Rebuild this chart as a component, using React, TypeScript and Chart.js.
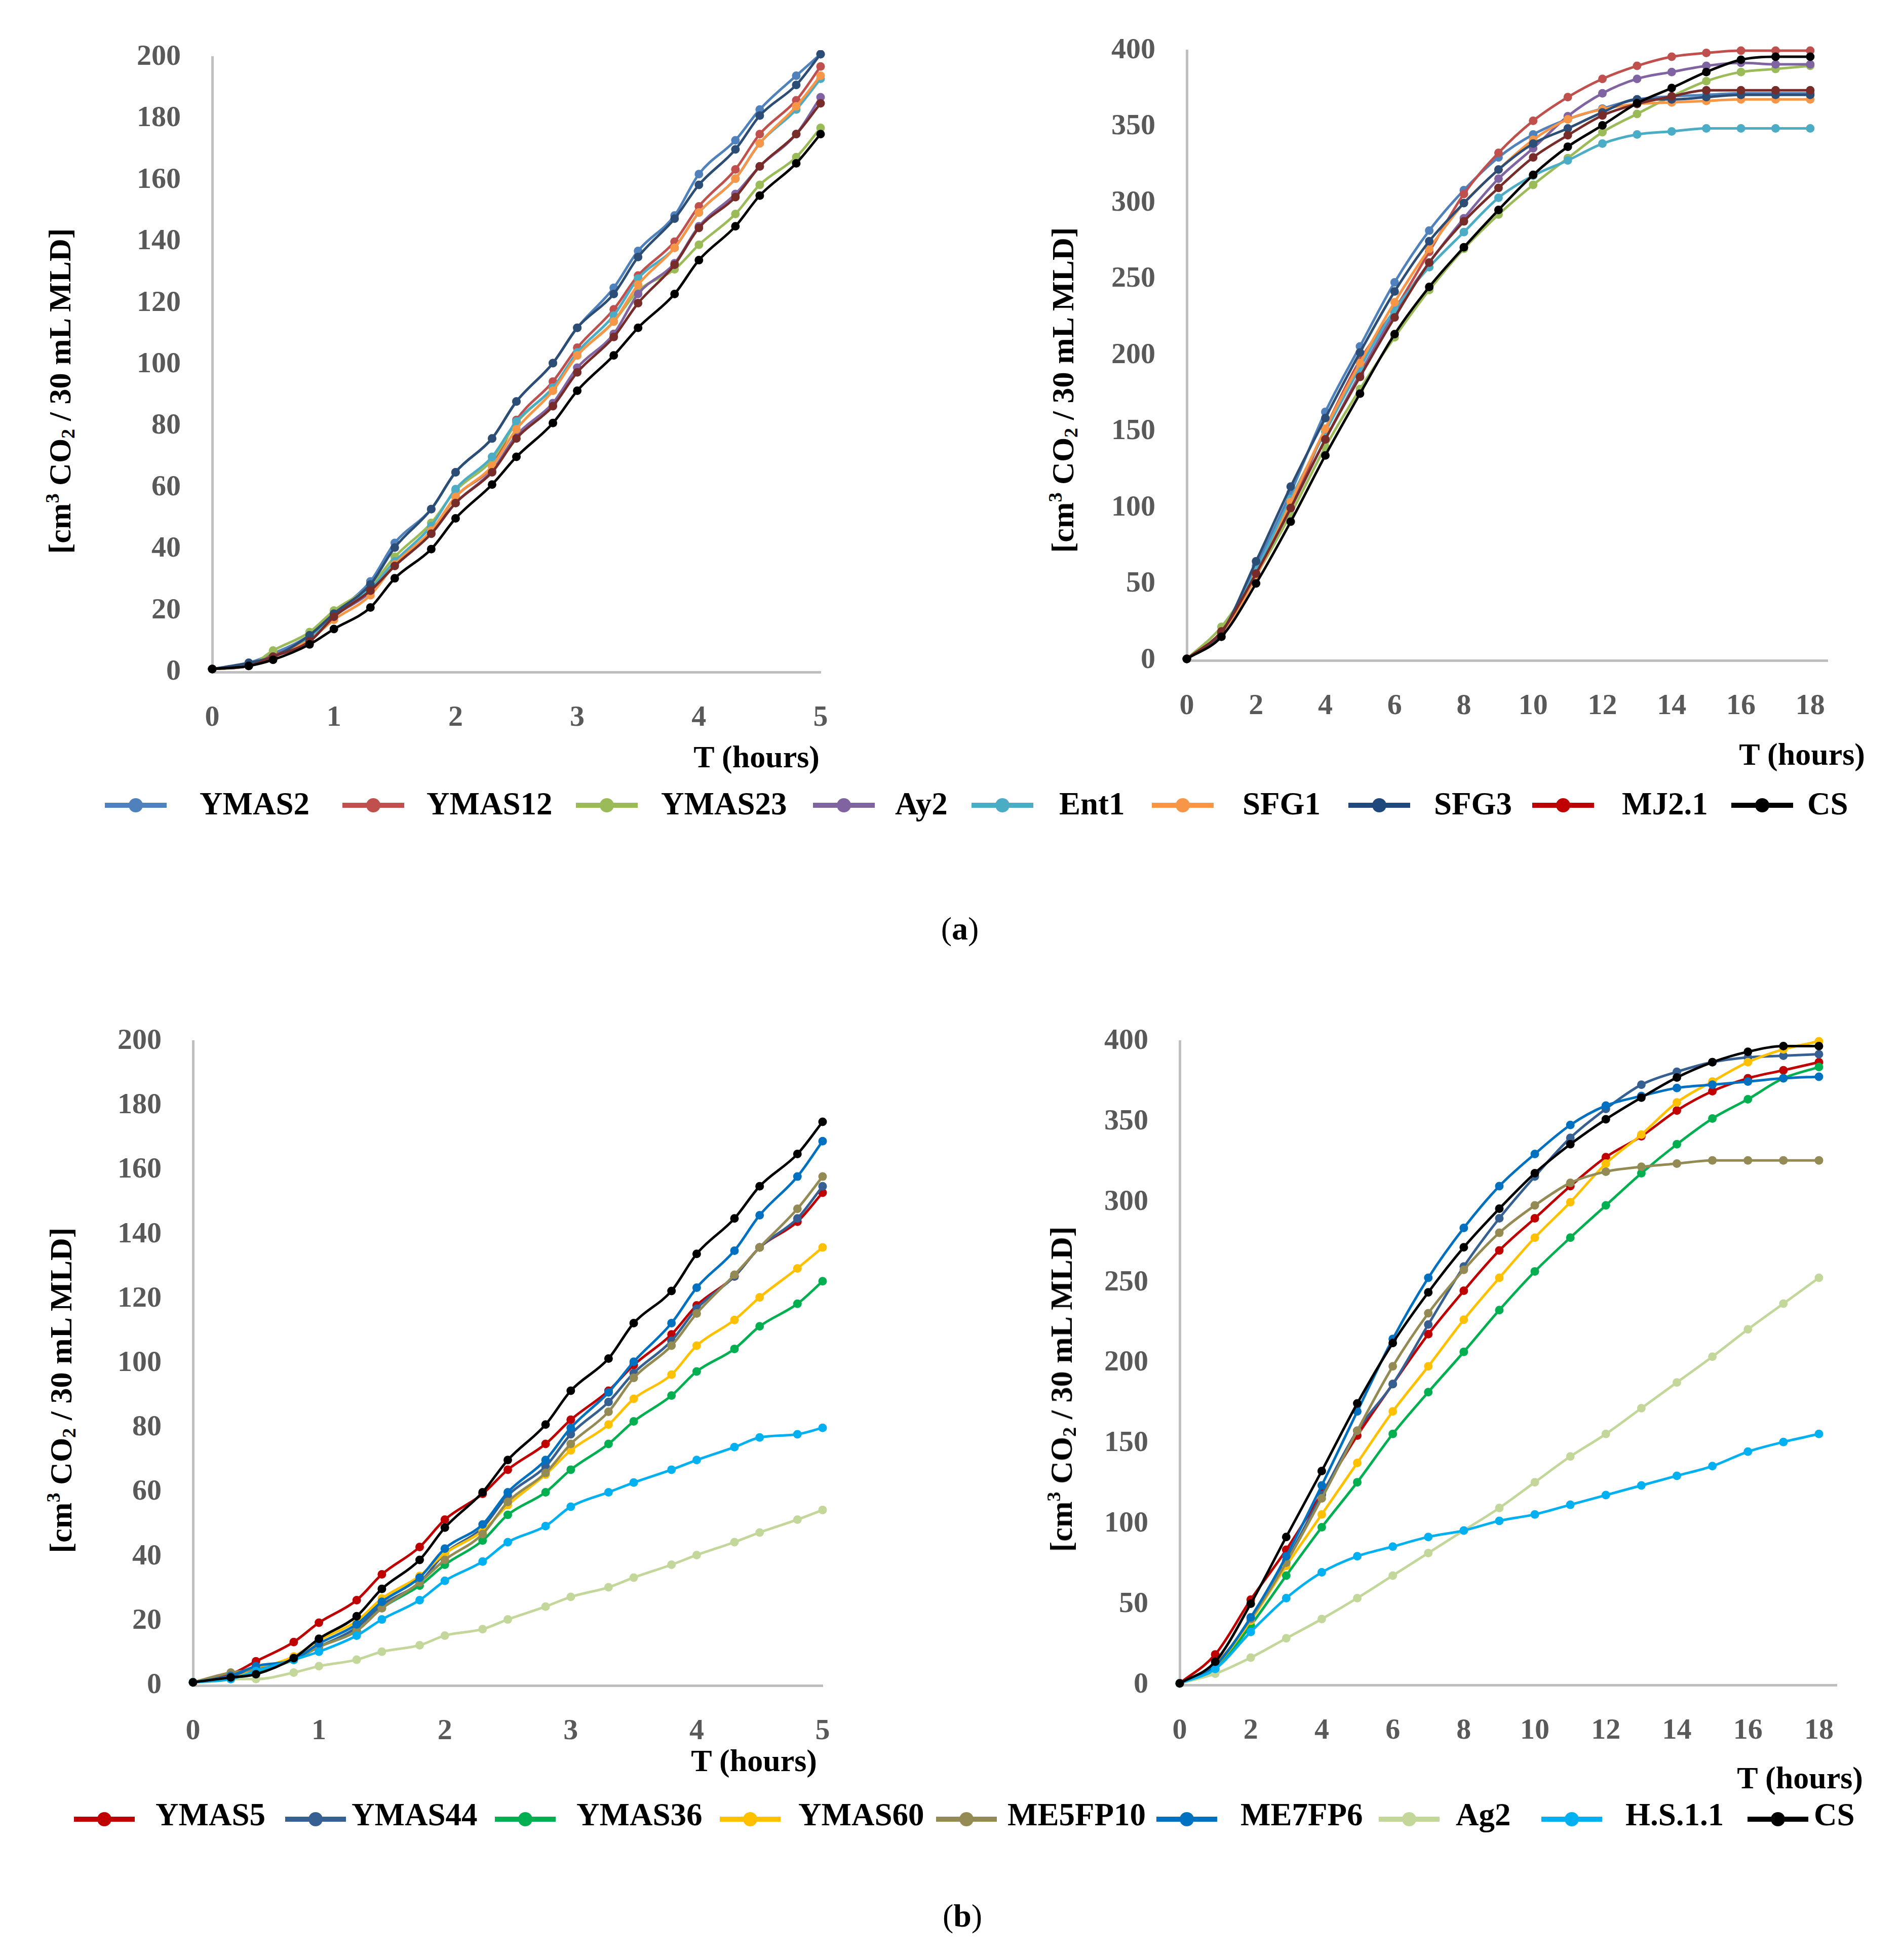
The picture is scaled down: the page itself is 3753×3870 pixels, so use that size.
import { useEffect, useRef } from "react";
import { Chart, registerables } from "chart.js";

Chart.register(...registerables);
Chart.defaults.font.family = "'Liberation Serif', 'Times New Roman', serif";

// sampling times (hours)
const shortHours = [0, 0.3, 0.5, 0.8, 1, 1.3, 1.5, 1.8, 2, 2.3, 2.5, 2.8, 3, 3.3, 3.5, 3.8, 4, 4.3, 4.5, 4.8, 5];
const longHours = [0, 1, 2, 3, 4, 5, 6, 7, 8, 9, 10, 11, 12, 13, 14, 15, 16, 17, 18];

const shortTicks = [0, 1, 2, 3, 4, 5];
const longTicks = [0, 2, 4, 6, 8, 10, 12, 14, 16, 18];

// (a) strains
const namesA = ["YMAS2", "YMAS12", "YMAS23", "Ay2", "Ent1", "SFG1", "SFG3", "MJ2.1", "CS"];

// (a) first 5 hours
const aShortYMAS2 = [1, 3, 6, 12, 19, 29.5, 42, 53, 65, 76, 88, 100.5, 112, 125, 137, 148.5, 162, 173, 183, 194, 201];
const aShortYMAS12 = [1, 2, 5.5, 10, 18, 26.5, 35.5, 45.5, 57, 67, 82, 94.5, 105.5, 118, 129, 140, 151.5, 163.5, 175, 186, 197];
const aShortYMAS23 = [1, 2, 7, 13, 20, 28, 37.5, 48.5, 59, 69, 81, 92.5, 103, 114, 124, 131, 139, 149, 158.5, 167.5, 177];
const aShortAy2 = [1, 2, 5, 10, 18, 26, 35, 45, 55, 65.5, 77, 87.5, 99, 110, 123, 133, 145, 155.5, 164.5, 175, 187];
const aShortEnt1 = [1, 2, 5, 11, 18, 27, 36, 47.5, 59.5, 70, 81.5, 92.5, 104, 116, 128, 138, 149.5, 160.5, 172, 183, 193];
const aShortSFG1 = [1, 2, 5, 10.5, 17, 25, 35, 46, 57, 67, 79, 91.5, 103, 114, 126, 138, 149.5, 160.5, 172, 184, 194];
const aShortSFG3 = [1, 3, 5, 12, 19, 28.5, 40.5, 53, 65, 76, 88, 100.5, 112, 123, 135, 147.5, 158.5, 170, 181, 191, 201];
const aShortMJ21 = [1, 2, 5, 10, 18, 26.5, 34.5, 45, 55, 65, 76, 86.5, 97.5, 109, 120, 132.5, 144.5, 154.5, 164.5, 175, 185];
const aShortCS = [1, 2, 4, 9, 14, 21, 30.5, 40, 50, 61, 70, 81, 91.5, 103, 112, 123, 134, 145, 155, 165.5, 175];

// (a) 18 hours
const aLongYMAS2 = [1, 18, 62, 110, 163, 206, 248, 282, 308.5, 330, 345, 355, 362, 368, 370, 371, 372, 372, 372];
const aLongYMAS12 = [1, 18, 57, 100, 152, 197, 230, 268, 306, 333, 354, 369.5, 381.5, 390, 396, 398.5, 400, 400, 400];
const aLongYMAS23 = [1, 22, 56, 96, 140, 178, 212, 243, 270, 292.5, 312, 329.5, 346.5, 358.5, 370, 380, 386, 388, 390];
const aLongAy2 = [1, 18, 57, 100, 145, 188, 228, 261, 290, 316, 336, 357, 372, 381.5, 386, 390, 392, 391, 391];
const aLongEnt1 = [1, 18, 59, 106, 150, 192, 230, 258, 281, 303.5, 318, 328, 339, 345, 347, 349, 349, 349, 349];
const aLongSFG1 = [1, 18, 55, 104, 152, 195, 235, 270, 300, 322, 341.5, 355, 361.5, 365, 366, 367, 368, 368, 368];
const aLongSFG3 = [1, 18, 65, 114, 159, 202, 242, 275, 300, 322, 339, 349, 359.5, 368, 368, 369.5, 371, 371, 371];
const aLongMJ21 = [1, 19, 57, 100, 145, 186, 225, 261, 288, 310, 330, 344.5, 357.5, 365, 370, 374, 374, 374, 374];
const aLongCS = [1, 15.5, 50.5, 91, 134.5, 175, 214, 245, 271, 295.5, 318.5, 337, 351, 365.5, 375.5, 386, 394, 396, 396];

// (b) strains
const namesB = ["YMAS5", "YMAS44", "YMAS36", "YMAS60", "ME5FP10", "ME7FP6", "Ag2", "H.S.1.1", "CS"];

// (b) first 5 hours
const bShortYMAS5 = [1, 3.5, 7.5, 13.5, 19.5, 26.5, 34.5, 43, 51.5, 59.5, 67, 75, 82.5, 91.5, 99.5, 109, 118, 127, 136, 144, 153];
const bShortYMAS44 = [1, 3, 5, 8, 12, 18, 25, 32, 41, 49, 59, 68, 78, 88, 97, 107, 117, 127, 136, 145, 155];
const bShortYMAS36 = [1, 2, 4, 8, 12, 17, 24, 31, 37.5, 45, 53, 60, 67, 75, 82, 90, 97.5, 104.5, 111.5, 118.5, 125.5];
const bShortYMAS60 = [1, 2, 5, 9, 14, 20, 27, 34, 41, 48, 56, 65.5, 73, 81, 89, 96.5, 105.5, 113.5, 120.5, 129.5, 136];
const bShortME5FP10 = [1, 4, 5, 8, 12, 17, 24, 32, 39, 47, 57, 66, 75, 85, 95.5, 105.5, 115.5, 127.5, 136, 148, 158];
const bShortME7FP6 = [1, 3, 6, 8, 13, 19, 26, 33.5, 42.5, 50, 60, 70, 80, 91, 100.5, 112.5, 123.5, 135, 146, 158, 169];
const bShortAg2 = [1, 2, 2, 4, 6, 8, 10.5, 12.5, 15.5, 17.5, 20.5, 24.5, 27.5, 30.5, 33.5, 37.5, 40.5, 44.5, 47.5, 51.5, 54.5];
const bShortHS11 = [1, 2, 4.5, 8, 10.5, 15.5, 20.5, 26.5, 32.5, 38.5, 44.5, 49.5, 55.5, 60, 63, 67, 70, 74, 77, 78, 80];
const bShortCS = [1, 2.5, 3.5, 8.5, 14.5, 21.5, 30, 39, 49, 60, 70, 81, 91.5, 101.5, 112.5, 122.5, 134, 145, 155, 165, 175];

// (b) 18 hours
const bLongYMAS5 = [1, 19, 53, 84, 119, 155, 187, 218, 245, 270, 290, 310, 328, 341, 357, 369, 377, 382, 387];
const bLongYMAS44 = [1, 12, 40, 77, 118, 158, 187, 224, 260, 290, 316, 340, 358, 373, 381, 387, 390, 391, 392];
const bLongYMAS36 = [1, 10, 37, 68, 98, 126, 156, 182, 207, 233, 257, 278, 298, 318, 336, 352, 364, 377, 384];
const bLongYMAS60 = [1, 12, 40, 74, 106, 138, 170, 198, 227, 253, 278, 300, 324, 342, 362, 375, 387, 395, 400];
const bLongME5FP10 = [1, 13, 41, 76, 116, 158, 198, 231, 258, 281, 298, 312, 319, 322, 324, 326, 326, 326, 326];
const bLongME7FP6 = [1, 12, 42, 80, 124, 170, 215, 253, 284, 310, 330, 348, 360, 366, 371, 373, 375, 377, 378];
const bLongAg2 = [1, 7, 17, 29, 41, 54, 68, 82, 96, 110, 126, 142, 156, 172, 188, 204, 221, 237, 253];
const bLongHS11 = [1, 10, 33, 54, 70, 80, 86, 92, 96, 102, 106, 112, 118, 124, 130, 136, 145, 151, 156];
const bLongCS = [1, 14.5, 50.5, 92, 133, 175, 212.5, 244, 272, 296, 318, 336, 351.5, 365, 377.5, 387, 393.5, 397, 397];

// colours
const colorsA = ["#4F81BD", "#C0504D", "#9BBB59", "#8064A2", "#4BACC6", "#F79646", "#2C4D75", "#772C2A", "#000000"];
const legendColorsA = ["#4F81BD", "#C0504D", "#9BBB59", "#8064A2", "#4BACC6", "#F79646", "#1F497D", "#C00000", "#000000"];
const colorsB = ["#C00000", "#376092", "#00B050", "#FFC000", "#948A54", "#0070C0", "#C4D79B", "#00B0F0", "#000000"];

const TICK_COLOR = "#595959";
const AXIS_COLOR = "#BFBFBF";
const Y_AXIS_W = 200;
const X_AXIS_H = 130;
const PAD_TOP = 50;
const PAD_RIGHT = 50;

type Rect = { left: number; top: number; right: number; bottom: number };
type Panel = {
  hours: number[];
  values: number[][];
  colors: string[];
  names: string[];
  xMax: number;
  xTicks: number[];
  yMax: number;
  yStep: number;
  area: Rect;
};

const panels: Panel[] = [
  {
    hours: shortHours,
    values: [aShortYMAS2, aShortYMAS12, aShortYMAS23, aShortAy2, aShortEnt1, aShortSFG1, aShortSFG3, aShortMJ21, aShortCS],
    colors: colorsA, names: namesA, xMax: 5, xTicks: shortTicks, yMax: 200, yStep: 20,
    area: { left: 419, top: 113, right: 1620, bottom: 1327 },
  },
  {
    hours: longHours,
    values: [aLongYMAS2, aLongYMAS12, aLongYMAS23, aLongAy2, aLongEnt1, aLongSFG1, aLongSFG3, aLongMJ21, aLongCS],
    colors: colorsA, names: namesA, xMax: 18.5, xTicks: longTicks, yMax: 400, yStep: 50,
    area: { left: 2343, top: 100, right: 3608, bottom: 1304 },
  },
  {
    hours: shortHours,
    values: [bShortYMAS5, bShortYMAS44, bShortYMAS36, bShortYMAS60, bShortME5FP10, bShortME7FP6, bShortAg2, bShortHS11, bShortCS],
    colors: colorsB, names: namesB, xMax: 5, xTicks: shortTicks, yMax: 200, yStep: 20,
    area: { left: 381, top: 2056, right: 1624, bottom: 3328 },
  },
  {
    hours: longHours,
    values: [bLongYMAS5, bLongYMAS44, bLongYMAS36, bLongYMAS60, bLongME5FP10, bLongME7FP6, bLongAg2, bLongHS11, bLongCS],
    colors: colorsB, names: namesB, xMax: 18.5, xTicks: longTicks, yMax: 400, yStep: 50,
    area: { left: 2329, top: 2056, right: 3626, bottom: 3327 },
  },
];

// axis title placement
const yTitles = [
  { x: 118, y: 772 },
  { x: 2098, y: 770 },
  { x: 120, y: 2745 },
  { x: 2095, y: 2743 },
];
const xTitles = [
  { x: 1618, y: 1494 },
  { x: 3682, y: 1489 },
  { x: 1613, y: 3476 },
  { x: 3678, y: 3510 },
];

const legendA = { y: 1590, textY: 1587, markerX: [207, 676, 1137, 1605, 1918, 2274, 2662, 3025, 3418], textX: [394, 842, 1305, 1767, 2091, 2453, 2831, 3202, 3568] };
const legendB = { y: 3592, textY: 3583, markerX: [146, 563, 977, 1421, 1848, 2283, 2722, 3043, 3450], textX: [307, 694, 1138, 1576, 1989, 2449, 2874, 3209, 3581] };

const tickFont = { size: 58, weight: "bold" as const };

function PanelChart({ panel }: { panel: Panel }) {
  const canvasRef = useRef<HTMLCanvasElement>(null);
  const { area } = panel;
  const left = area.left - Y_AXIS_W;
  const top = area.top - PAD_TOP;
  const width = area.right - area.left + Y_AXIS_W + PAD_RIGHT;
  const height = area.bottom - area.top + PAD_TOP + X_AXIS_H;

  useEffect(() => {
    if (!canvasRef.current) return;
    const n = panel.values.length;
    const chart = new Chart(canvasRef.current, {
      type: "scatter",
      data: {
        datasets: panel.values.map((vals, i) => ({
          label: panel.names[i],
          data: vals.map((y, k) => ({ x: panel.hours[k], y })),
          showLine: true,
          borderColor: panel.colors[i],
          backgroundColor: panel.colors[i],
          borderWidth: 5,
          pointRadius: 8.5,
          pointHoverRadius: 8.5,
          pointBorderWidth: 0,
          cubicInterpolationMode: "monotone" as const,
          clip: 14,
          order: n - i,
        })),
      },
      options: {
        responsive: false,
        animation: false,
        devicePixelRatio: 1,
        layout: { padding: { top: PAD_TOP, right: PAD_RIGHT, left: 0, bottom: 0 } },
        plugins: { legend: { display: false }, tooltip: { enabled: false } },
        scales: {
          x: {
            type: "linear",
            min: 0,
            max: panel.xMax,
            grid: { display: false, drawTicks: false },
            border: { display: true, color: AXIS_COLOR, width: 5 },
            ticks: { font: tickFont, color: TICK_COLOR, padding: 56, maxRotation: 0 },
            afterBuildTicks: (scale: any) => {
              scale.ticks = panel.xTicks.map((v) => ({ value: v }));
            },
            afterFit: (scale: any) => {
              scale.height = X_AXIS_H;
              scale.paddingLeft = 0;
              scale.paddingRight = 0;
            },
          },
          y: {
            type: "linear",
            min: 0,
            max: panel.yMax,
            grid: { display: false, drawTicks: false },
            border: { display: true, color: AXIS_COLOR, width: 5 },
            ticks: { font: tickFont, color: TICK_COLOR, padding: 62, stepSize: panel.yStep },
            afterFit: (scale: any) => {
              scale.width = Y_AXIS_W;
              scale.paddingTop = 0;
              scale.paddingBottom = 0;
            },
          },
        },
      },
    });
    return () => {
      chart.destroy();
    };
  }, [panel]);

  return (
    <canvas
      ref={canvasRef}
      width={width}
      height={height}
      style={{ position: "absolute", left, top, width, height }}
    />
  );
}

const titleFont = "bold 62px 'Liberation Serif', serif";

function YTitle({ x, y }: { x: number; y: number }) {
  return (
    <div
      style={{
        position: "absolute",
        left: x,
        top: y,
        transform: "translate(-50%, -50%) rotate(-90deg)",
        whiteSpace: "nowrap",
        font: titleFont,
        lineHeight: 1,
        color: "#000",
      }}
    >
      [cm<sup style={{ fontSize: "0.62em", verticalAlign: "0.6em", lineHeight: 0 }}>3</sup> CO
      <sub style={{ fontSize: "0.62em", verticalAlign: "-0.22em", lineHeight: 0 }}>2</sub> / 30 mL MLD]
    </div>
  );
}

function XTitle({ x, y }: { x: number; y: number }) {
  return (
    <div
      style={{
        position: "absolute",
        left: x,
        top: y,
        transform: "translate(-100%, -50%)",
        whiteSpace: "nowrap",
        font: titleFont,
        lineHeight: 1,
        color: "#000",
      }}
    >
      T (hours)
    </div>
  );
}

function Legend({
  names,
  colors,
  layout,
  markerW,
}: {
  names: string[];
  colors: string[];
  layout: { y: number; textY: number; markerX: number[]; textX: number[] };
  markerW: number;
}) {
  return (
    <>
      {names.map((name, i) => (
        <div key={name + i}>
          <div
            style={{
              position: "absolute",
              left: layout.markerX[i],
              top: layout.y - 5,
              width: markerW,
              height: 10,
              background: colors[i],
            }}
          />
          <div
            style={{
              position: "absolute",
              left: layout.markerX[i] + markerW / 2 - 14,
              top: layout.y - 14,
              width: 28,
              height: 28,
              borderRadius: "50%",
              background: colors[i],
            }}
          />
          <div
            style={{
              position: "absolute",
              left: layout.textX[i],
              top: layout.textY,
              transform: "translateY(-50%)",
              font: "bold 63px 'Liberation Serif', serif",
              lineHeight: 1,
              whiteSpace: "nowrap",
              color: "#000",
            }}
          >
            {name}
          </div>
        </div>
      ))}
    </>
  );
}

function Caption({ x, y, letter }: { x: number; y: number; letter: string }) {
  return (
    <div
      style={{
        position: "absolute",
        left: x,
        top: y,
        transform: "translate(-50%, -50%)",
        font: "64px 'Liberation Serif', serif",
        lineHeight: 1,
        color: "#000",
      }}
    >
      (<b>{letter}</b>)
    </div>
  );
}

export default function App() {
  return (
    <div
      style={{
        position: "absolute",
        left: 0,
        top: 0,
        width: 3753,
        height: 3870,
        background: "#fff",
        overflow: "hidden",
      }}
    >
      {panels.map((p, i) => (
        <PanelChart key={i} panel={p} />
      ))}
      {yTitles.map((t, i) => (
        <YTitle key={"y" + i} x={t.x} y={t.y} />
      ))}
      {xTitles.map((t, i) => (
        <XTitle key={"x" + i} x={t.x} y={t.y} />
      ))}
      <Legend names={namesA} colors={legendColorsA} layout={legendA} markerW={122} />
      <Legend names={namesB} colors={colorsB} layout={legendB} markerW={120} />
      <Caption x={1895} y={1834} letter="a" />
      <Caption x={1900} y={3783} letter="b" />
    </div>
  );
}
